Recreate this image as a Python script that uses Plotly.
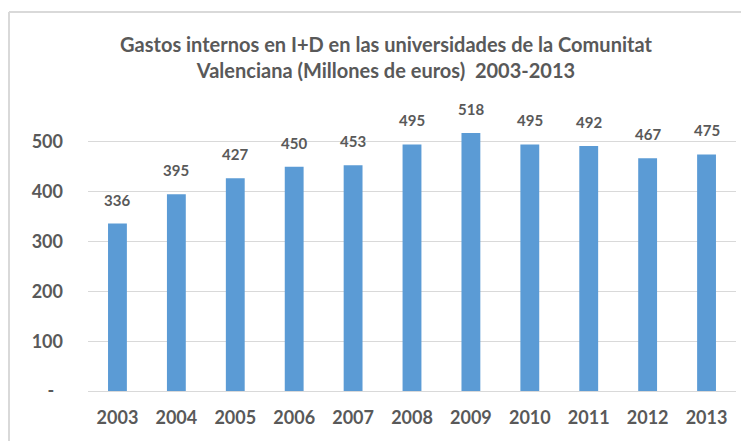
import plotly.graph_objects as go

years = ["2003", "2004", "2005", "2006", "2007", "2008", "2009", "2010", "2011", "2012", "2013"]
values = [336, 395, 427, 450, 453, 495, 518, 495, 492, 467, 475]
y_tickvals = [0, 100, 200, 300, 400, 500]
y_ticktext = ["-\u00a0\u00a0", "100", "200", "300", "400", "500"]
title_text = "Gastos internos en I+D en las universidades de la Comunitat<br>Valenciana (Millones de euros)  2003-2013"

W, H = 749, 441
ML, MR, MT, MB = 80, 21, 114, 58
FONT = "Lato, 'Open Sans', sans-serif"
GREY = "#595959"

fig = go.Figure()
fig.add_trace(go.Bar(x=years, y=values, marker=dict(color="#5B9BD5", line=dict(width=0)),
                     hoverinfo="x+y"))

for i, v in enumerate(values):
    fig.add_annotation(x=i, y=v, xref="x", yref="y", text=str(v), showarrow=False,
                       yanchor="bottom", yshift=13,
                       font=dict(family=FONT, size=15, color=GREY, weight="bold"))

pw = W - ML - MR
ph = H - MT - MB
def px_x(p):
    return (p - ML) / pw
def px_y(p):
    return (H - MB - p) / ph

fig.add_shape(type="line", xref="paper", yref="paper", x0=px_x(1), x1=px_x(1), y0=px_y(4), y1=px_y(445),
              line=dict(color="#D9D9D9", width=2))
fig.add_shape(type="line", xref="paper", yref="paper", x0=px_x(1), x1=px_x(760), y0=px_y(4), y1=px_y(4),
              line=dict(color="#D9D9D9", width=2))

fig.update_layout(
    width=W, height=H,
    margin=dict(l=ML, r=MR, t=MT, b=MB),
    paper_bgcolor="white", plot_bgcolor="white",
    bargap=0.68,
    showlegend=False,
    title=dict(text=title_text, x=378 / W, xanchor="center", y=1 - 44 / H, yanchor="top",
               font=dict(family=FONT, size=20, color=GREY, weight="bold")),
    font=dict(family=FONT, color=GREY),
)
fig.update_xaxes(type="category", range=[-0.5, len(years) - 0.5],
                 showgrid=False, showline=False, zeroline=False, ticks="",
                 tickfont=dict(family=FONT, size=18, color=GREY, weight="bold"),
                 ticklabelstandoff=14)
fig.update_yaxes(range=[0, 540], tickvals=y_tickvals, ticktext=y_ticktext,
                 showgrid=True, gridcolor="#D9D9D9", gridwidth=1,
                 zeroline=True, zerolinecolor="#D9D9D9", zerolinewidth=1,
                 showline=False, ticks="",
                 tickfont=dict(family=FONT, size=18, color=GREY, weight="bold"),
                 ticklabelstandoff=24)

fig.write_html("out.html")
